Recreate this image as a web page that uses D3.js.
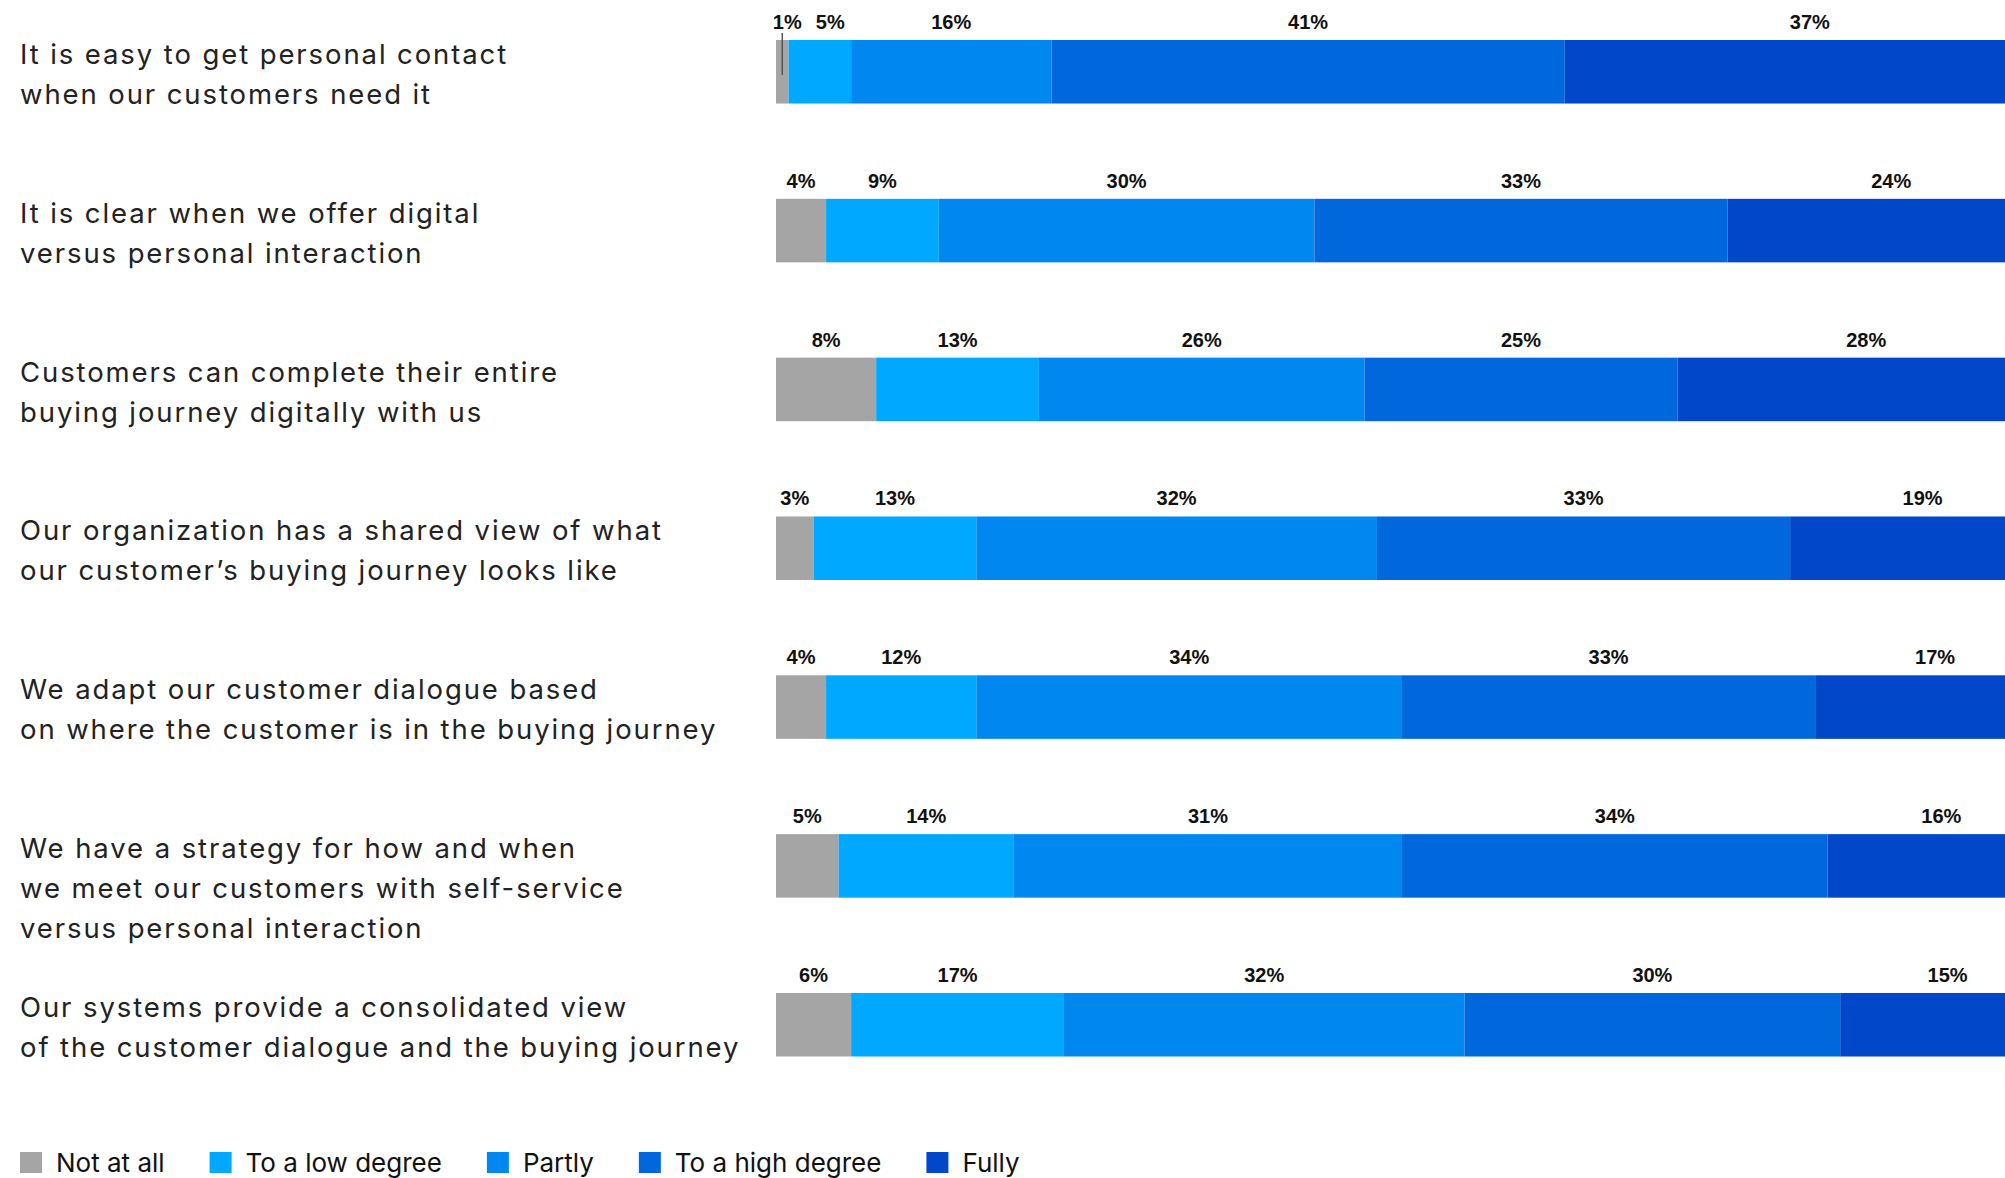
<!DOCTYPE html>
<html>
<head>
<meta charset="utf-8">
<script src="https://cdn.jsdelivr.net/npm/d3@7"></script>
<style>
  html, body { margin: 0; padding: 0; background: #fff; overflow: hidden; }
  svg { display: block; }
</style>
</head>
<body>
<svg id="chart" width="2005" height="1178"></svg>
<script>
// Survey statements (line breaks mark wrapped lines)
const categories = [
  "It is easy to get personal contact\nwhen our customers need it",
  "It is clear when we offer digital\nversus personal interaction",
  "Customers can complete their entire\nbuying journey digitally with us",
  "Our organization has a shared view of what\nour customer\u2019s buying journey looks like",
  "We adapt our customer dialogue based\non where the customer is in the buying journey",
  "We have a strategy for how and when\nwe meet our customers with self-service\nversus personal interaction",
  "Our systems provide a consolidated view\nof the customer dialogue and the buying journey"
];

// Response levels, in stacking order
const seriesNames = ["Not at all", "To a low degree", "Partly", "To a high degree", "Fully"];

// Share of respondents (%) per statement
const notAtAll   = [1, 4, 8, 3, 4, 5, 6];
const lowDegree  = [5, 9, 13, 13, 12, 14, 17];
const partly     = [16, 30, 26, 32, 34, 31, 32];
const highDegree = [41, 33, 25, 33, 33, 34, 30];
const fully      = [37, 24, 28, 19, 17, 16, 15];

const colors = ["#a5a5a5", "#00a9ff", "#0088f0", "#0068dc", "#0047c9"];

const seriesValues = [notAtAll, lowDegree, partly, highDegree, fully];
const rows = categories.map((c, i) => {
  const r = { category: c };
  seriesNames.forEach((s, k) => { r[s] = seriesValues[k][i]; });
  return r;
});

const svg = d3.select("#chart");

// The bars run past the right edge of the page and are cut off there
const x = d3.scaleLinear().domain([0, 100]).range([776, 2028]);
const labelEnd = 2055; // centre reference for the cut-off last segment's label
const y = d3.scaleBand().domain(categories).range([40, 1056.5]).paddingInner(0.6).paddingOuter(0);
const color = d3.scaleOrdinal().domain(seriesNames).range(colors);

const stacked = d3.stack().keys(seriesNames)(rows);

// Stacked bar segments
const layers = svg.append("g").selectAll("g")
  .data(stacked)
  .join("g")
  .attr("fill", d => color(d.key));

layers.selectAll("rect")
  .data(d => d.map(p => ({ p, key: d.key })))
  .join("rect")
  .attr("x", d => x(d.p[0]))
  .attr("y", d => y(d.p.data.category))
  .attr("width", d => x(d.p[1]) - x(d.p[0]))
  .attr("height", y.bandwidth());

// Value labels above each segment, nudged apart where segments are thin
const labelData = [];
rows.forEach((row, i) => {
  let prev = -Infinity;
  stacked.forEach((layer, k) => {
    const p = layer[i];
    const v = row[layer.key];
    const last = k === stacked.length - 1;
    let cx = last ? (x(p[0]) + labelEnd) / 2 : (x(p[0]) + x(p[1])) / 2;
    if (v < 2) cx += 5;
    if (cx - prev < 43) cx = prev + 43;
    prev = cx;
    labelData.push({ key: layer.key, v, cx, segX: (x(p[0]) + x(p[1])) / 2, cat: row.category });
  });
});

const labels = svg.append("g")
  .attr("font-family", "'Liberation Sans', Arial, sans-serif")
  .attr("font-weight", "bold")
  .attr("font-size", 20)
  .attr("fill", "#111")
  .attr("text-anchor", "middle");

labels.selectAll("text")
  .data(labelData)
  .join("text")
  .attr("x", d => d.cx)
  .attr("y", d => y(d.cat) - 11)
  .text(d => d.v + "%");

// Leader line for very thin segments
svg.append("g").selectAll("line")
  .data(labelData.filter(d => d.v < 2))
  .join("line")
  .attr("x1", d => d.segX)
  .attr("x2", d => d.segX)
  .attr("y1", d => y(d.cat) - 7)
  .attr("y2", d => y(d.cat) + 35)
  .attr("stroke", "#555")
  .attr("stroke-width", 1.5);

// Statement labels on the left
const cat = svg.append("g")
  .attr("font-family", "Inter, 'Noto Sans', sans-serif")
  .attr("font-size", 27.5)
  .attr("letter-spacing", 1.9)
  .attr("fill", "#222");

cat.selectAll("text")
  .data(categories)
  .join("text")
  .attr("x", 20)
  .attr("y", d => y(d) + 24)
  .each(function(d) {
    const t = d3.select(this);
    d.split("\n").forEach((line, i) => {
      t.append("tspan").attr("x", 20).attr("dy", i === 0 ? 0 : 40).text(line);
    });
  });

// Legend
const legend = svg.append("g")
  .attr("font-family", "Inter, 'Noto Sans', sans-serif")
  .attr("font-size", 26)
  .attr("fill", "#111");

let lx = 20;
seriesNames.forEach(name => {
  const g = legend.append("g");
  g.append("rect")
    .attr("x", lx).attr("y", 1152)
    .attr("width", 22).attr("height", 21)
    .attr("fill", color(name));
  const txt = g.append("text")
    .attr("x", lx + 36).attr("y", 1172)
    .text(name);
  lx += 36 + txt.node().getComputedTextLength() + 45;
});
</script>
</body>
</html>
